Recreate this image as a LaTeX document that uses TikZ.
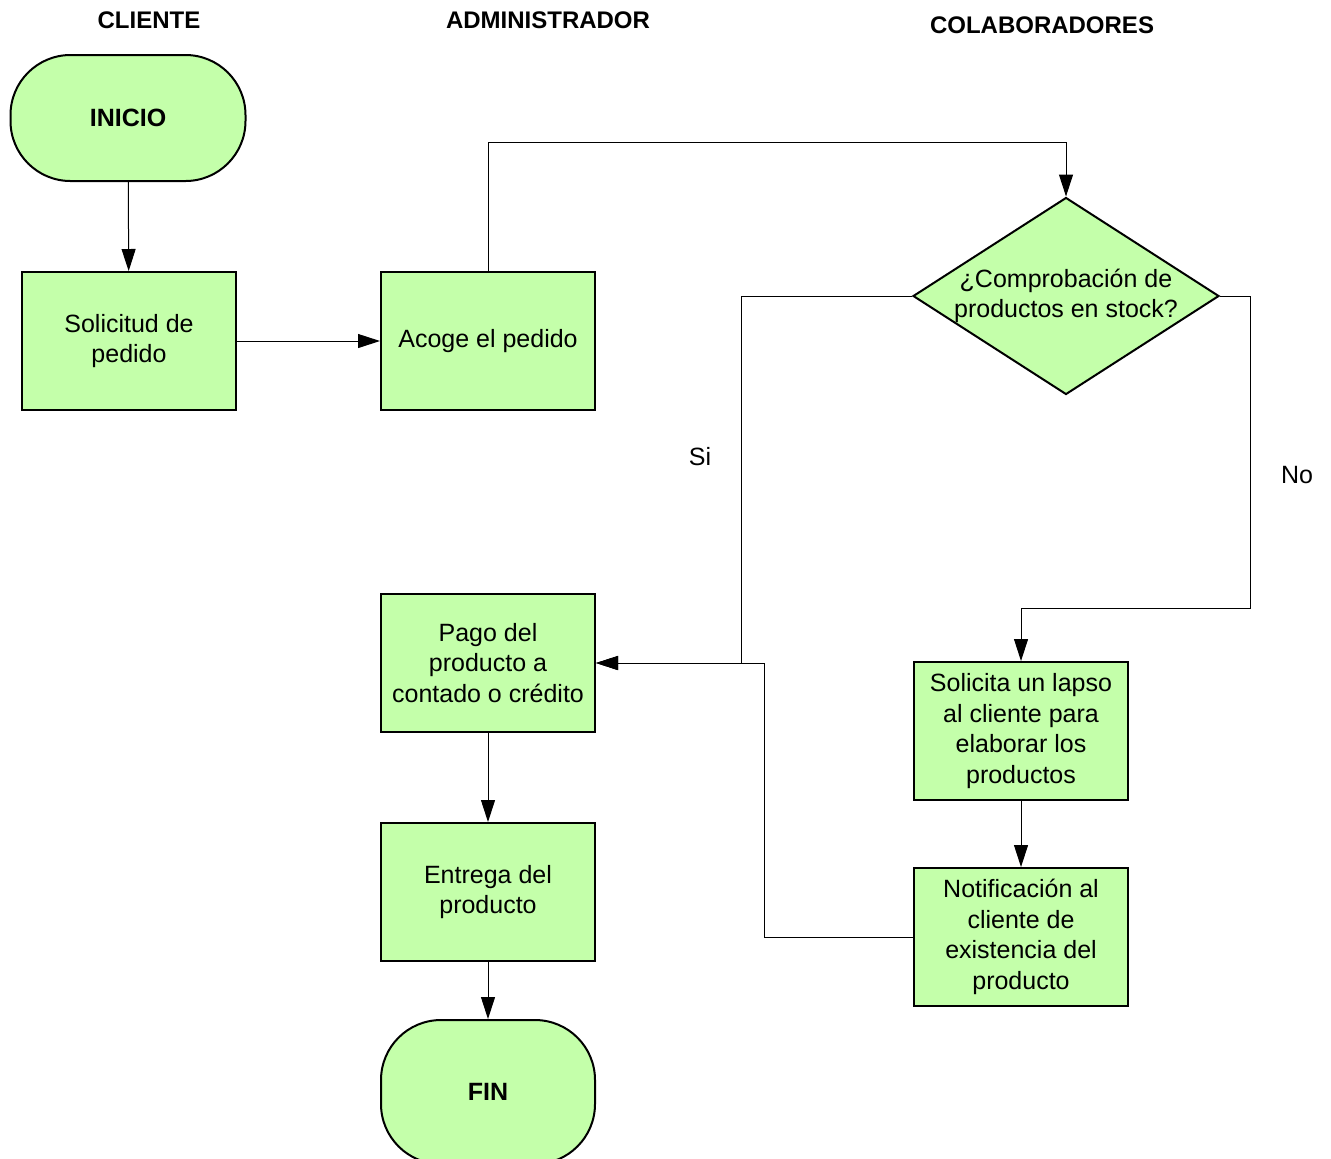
\documentclass[tikz,border=0pt]{standalone}
\usepackage{fontspec}
\setmainfont{Liberation Sans}
\usetikzlibrary{shapes.geometric,arrows.meta}
\definecolor{verde}{RGB}{196,255,170}

\begin{document}
\begin{tikzpicture}[x=0.5pt, y=-0.5pt,
    caja/.style={draw, line width=1pt, fill=verde, minimum width=107pt, minimum height=69pt, inner sep=2pt, align=center, font=\fontsize{12.5}{15.25}\selectfont},
    terminal/.style={caja, rounded corners=30pt, font=\fontsize{12.5}{15}\selectfont\bfseries},
    decision/.style={draw, line width=1pt, fill=verde, diamond, aspect=1.55, minimum width=153pt, minimum height=98.5pt, inner sep=-2pt, align=center, font=\fontsize{12.5}{15}\selectfont},
    titulo/.style={font=\fontsize{12}{14}\selectfont\bfseries},
    etiqueta/.style={font=\fontsize{12.5}{15}\selectfont},
    flecha/.style={-{Triangle[length=11pt,width=7pt]}, line width=0.5pt}]
    \useasboundingbox (0,0) rectangle (1331,1158);

    % Lanes
    \node[titulo] (cliente) at (149,20) {CLIENTE};
    \node[titulo] (admin) at (548,20) {ADMINISTRADOR};
    \node[titulo] (colab) at (1042,25) {COLABORADORES};

    % Steps of the process
    \node[terminal, minimum width=117.5pt, minimum height=63pt] (inicio) at (128,118) {INICIO};
    \node[caja] (solicitud) at (129,341) {Solicitud de\\pedido};
    \node[caja] (acoge) at (488,341) {Acoge el pedido};
    \node[decision] (comprob) at (1066,296) {¿Comprobación de\\productos en stock?};
    \node[caja] (pago) at (488,663) {Pago del\\producto a\\contado o crédito};
    \node[caja] (entrega) at (488,892) {Entrega del\\producto};
    \node[terminal, minimum height=72pt] (fin) at (488,1092) {FIN};
    \node[caja] (lapso) at (1021,731) {Solicita un lapso\\al cliente para\\elaborar los\\productos};
    \node[caja] (notif) at (1021,937) {Notificación al\\cliente de\\existencia del\\producto};

    % Connectors
    \draw[flecha] (inicio) -- (solicitud);
    \draw[flecha] (solicitud) -- (acoge);
    \draw[flecha] (acoge.north) -- ++(0,-129) -| (comprob.north);
    \draw[flecha] (comprob.west) -- ++(-171,0) |- (pago.east);
    \draw[flecha] (comprob.east) -- ++(30,0) -- ++(0,312) -| (lapso.north);
    \draw[flecha] (lapso) -- (notif);
    \draw[flecha] (notif.west) -- ++(-149,0) |- (pago.east);
    \draw[flecha] (pago) -- (entrega);
    \draw[flecha] (entrega) -- (fin);

    % Answers
    \node[etiqueta] (si) at (700,457) {Si};
    \node[etiqueta] (no) at (1297,475) {No};
\end{tikzpicture}
\end{document}
